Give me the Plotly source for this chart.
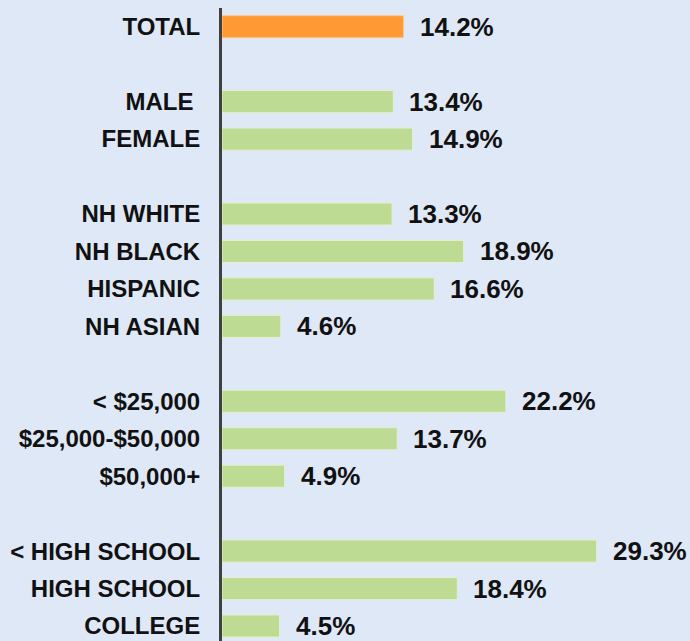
import plotly.graph_objects as go

# groups of categories, blank slot between groups
groups = [
    ["TOTAL"],
    ["MALE\u00a0", "FEMALE"],
    ["NH WHITE", "NH BLACK", "HISPANIC", "NH ASIAN"],
    ["< $25,000", "$25,000-$50,000", "$50,000+"],
    ["< HIGH SCHOOL", "HIGH SCHOOL", "COLLEGE"],
]
group_values = [
    [14.2],
    [13.4, 14.9],
    [13.3, 18.9, 16.6, 4.6],
    [22.2, 13.7, 4.9],
    [29.3, 18.4, 4.5],
]

labels = []
values = []
positions = []
pos = 0
for cats, vals in zip(groups, group_values):
    for c, v in zip(cats, vals):
        labels.append(c)
        values.append(v)
        positions.append(pos)
        pos += 1
    pos += 1  # gap row

colors = ["#ff9933" if c == "TOTAL" else "#bddb92" for c in labels]
line_colors = ["#fbc98f" if c == "TOTAL" else "#e4efcf" for c in labels]

fig = go.Figure()
fig.add_trace(go.Bar(
    x=values,
    y=positions,
    orientation="h",
    width=0.59,
    marker=dict(color=colors, line=dict(color=line_colors, width=1)),
    hoverinfo="skip",
))

for v, p in zip(values, positions):
    fig.add_annotation(
        x=v, y=p, text="%.1f%%" % v,
        xanchor="left", yanchor="middle",
        xshift=14, yshift=0, showarrow=False,
        font=dict(family="Arial, Liberation Sans", size=26, color="#111111", weight="bold"),
    )

fig.update_layout(
    width=690, height=641,
    margin=dict(l=222, r=0, t=8, b=0),
    paper_bgcolor="#dfe8f6",
    plot_bgcolor="#dfe8f6",
    showlegend=False,
    xaxis=dict(range=[0, 36.6], visible=False, fixedrange=True),
    yaxis=dict(
        range=[16.4, -0.5],
        tickvals=positions,
        ticktext=labels,
        showgrid=False,
        zeroline=False,
        showline=True,
        linecolor="#404040",
        linewidth=3,
        ticks="",
        ticklabelstandoff=14,
        fixedrange=True,
        tickfont=dict(family="Arial, Liberation Sans", size=24, color="#111111", weight="bold"),
    ),
)

fig.write_html(
    "out.html",
    config={"displayModeBar": False},
    post_script="document.body.style.margin='0';document.body.style.overflow='hidden';",
)
